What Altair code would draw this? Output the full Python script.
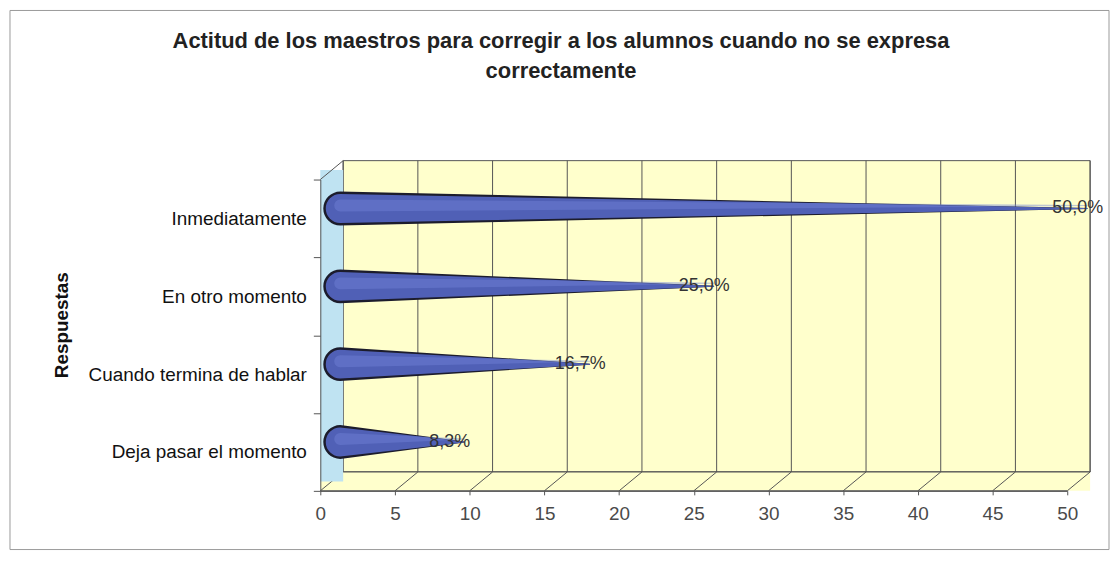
import altair as alt
import pandas as pd

# ---- data ----
CATEGORIES = ["Inmediatamente", "En otro momento", "Cuando termina de hablar", "Deja pasar el momento"]
VALUES = [50.0, 25.0, 16.7, 8.3]
TICKS = [0, 5, 10, 15, 20, 25, 30, 35, 40, 45, 50]
TITLE_LINES = ["Actitud de los maestros para corregir a los alumnos cuando no se expresa",
               "correctamente"]
Y_TITLE = "Respuestas"

# ---- layout / style ----
W, H = 751, 313
DX, DY = 23, 19          # pseudo-3D depth of the walls
FONT = "Liberation Sans"
YELLOW = "#FFFFCC"
BLUE_WALL = "#BFE3F2"
LINE = "#555555"
CONE_FILL = "#5060B6"
CONE_LIGHT = "#7183D6"
CONE_EDGE = "#1C1C2C"

cone_rows = []
for c, v in zip(CATEGORIES, VALUES):
    cone_rows.append({"cat": c, "x": 0.0, "w": 1.0})
    cone_rows.append({"cat": c, "x": v, "w": 0.0})
cones = pd.DataFrame(cone_rows)

labels = pd.DataFrame({
    "cat": CATEGORIES,
    "v": VALUES,
    "label": [f"{v:.1f}".replace(".", ",") + "%" for v in VALUES],
})
ticks = pd.DataFrame({"t": TICKS})
one = alt.Data(values=[{"a": 1}])

x_scale = alt.Scale(domain=[0, 50], nice=False, zero=True)
y_scale = alt.Scale(domain=CATEGORIES, paddingInner=0, paddingOuter=0)

x_axis = alt.Axis(values=TICKS, title=None, grid=False, labelFontSize=19, labelFont=FONT,
                  labelColor="#4a4a4a", tickSize=4, tickColor=LINE, domainColor=LINE,
                  labelPadding=10, labelFlush=False, zindex=1)
y_axis = alt.Axis(title=Y_TITLE, grid=False, labelFontSize=19, labelFont=FONT,
                  labelColor="#111111", tickSize=7, tickColor=LINE, domainColor=LINE,
                  labelPadding=7, labelLimit=0, tickBand="extent", zindex=1,
                  titleFont=FONT, titleFontSize=19, titleFontWeight="bold", titleColor="#111111",
                  titleX=-260, titleY=146, titleAngle=270, titleAlign="center",
                  titleBaseline="middle")

# border around whole chart
border = alt.Chart(one).mark_rect(fill="transparent", stroke="#9a9a9a", strokeWidth=1).encode(
    x=alt.value(-312), x2=alt.value(793), y=alt.value(-170), y2=alt.value(372))

# back wall
back = alt.Chart(one).mark_rect(fill=YELLOW, stroke=LINE, strokeWidth=1).encode(
    x=alt.value(DX), x2=alt.value(W + DX), y=alt.value(-DY), y2=alt.value(H - DY))

# floor
floor = alt.Chart(one).mark_rect(fill=YELLOW).encode(
    x=alt.value(0), x2=alt.value(W + DX), y=alt.value(H - DY), y2=alt.value(H))

# left wall
lwall = alt.Chart(one).mark_rect(fill=BLUE_WALL).encode(
    x=alt.value(0), x2=alt.value(DX), y=alt.value(-DY / 2), y2=alt.value(H - DY / 2))

lwall_top = alt.Chart(one).mark_rule(color=LINE, strokeWidth=1).encode(
    x=alt.value(0), x2=alt.value(DX), y=alt.value(0), y2=alt.value(-DY))

floor_back = alt.Chart(one).mark_rule(color=LINE, strokeWidth=1.2).encode(
    x=alt.value(DX), x2=alt.value(W + DX), y=alt.value(H - DY), y2=alt.value(H - DY))

floor_front = alt.Chart(one).mark_rule(color=LINE, strokeWidth=1.2).encode(
    x=alt.value(0), x2=alt.value(W), y=alt.value(H), y2=alt.value(H))

grid = alt.Chart(ticks).mark_rule(color=LINE, strokeWidth=1, xOffset=DX).encode(
    x=alt.X("t:Q", scale=x_scale, axis=x_axis),
    y=alt.value(-DY), y2=alt.value(H - DY))

floor_diag = alt.Chart(ticks).mark_rule(color=LINE, strokeWidth=1, xOffset=DX, x2Offset=0).encode(
    x=alt.X("t:Q", scale=x_scale, axis=x_axis),
    x2=alt.X2("t"),
    y=alt.value(H - DY), y2=alt.value(H))

CONE_DX = 20


def cone_layer(color, width, y_off, opacity=1.0):
    return alt.Chart(cones).mark_trail(color=color, yOffset=y_off, xOffset=CONE_DX,
                                       opacity=opacity).encode(
        x=alt.X("x:Q", scale=x_scale, axis=x_axis),
        y=alt.Y("cat:N", scale=y_scale, sort=CATEGORIES, axis=y_axis),
        detail="cat:N",
        size=alt.Size("w:Q", scale=alt.Scale(domain=[0, 1], range=[0, width]), legend=None),
    )


cone_edge = cone_layer(CONE_EDGE, 34, -10)
cone_fill = cone_layer(CONE_FILL, 29, -10)
cone_light = cone_layer(CONE_LIGHT, 12, -13, 0.45)

value_labels = alt.Chart(labels).mark_text(align="left", baseline="middle", dx=-15, dy=-10,
                                           fontSize=18, font=FONT, color="#333333").encode(
    x=alt.X("v:Q", scale=x_scale, axis=x_axis),
    y=alt.Y("cat:N", scale=y_scale, sort=CATEGORIES, axis=y_axis),
    text="label:N",
)

title = alt.Chart(one).mark_text(text=TITLE_LINES, lineHeight=30, align="center",
                                 baseline="alphabetic", fontSize=22, fontWeight="bold",
                                 font=FONT, color="#222222").encode(
    x=alt.value(242), y=alt.value(-132))

chart = alt.layer(
    border, back, grid, floor, floor_diag, lwall, lwall_top, floor_back, floor_front,
    cone_edge, cone_fill, cone_light, value_labels, title,
).resolve_scale(size="independent").properties(
    width=W, height=H,
    autosize=alt.AutoSizeParams(type="none"),
    padding={"left": 314, "top": 171, "right": 44, "bottom": 61},
    background="white",
).configure_view(stroke=None)

chart.save("out.html", embed_options={"renderer": "svg", "actions": False})
